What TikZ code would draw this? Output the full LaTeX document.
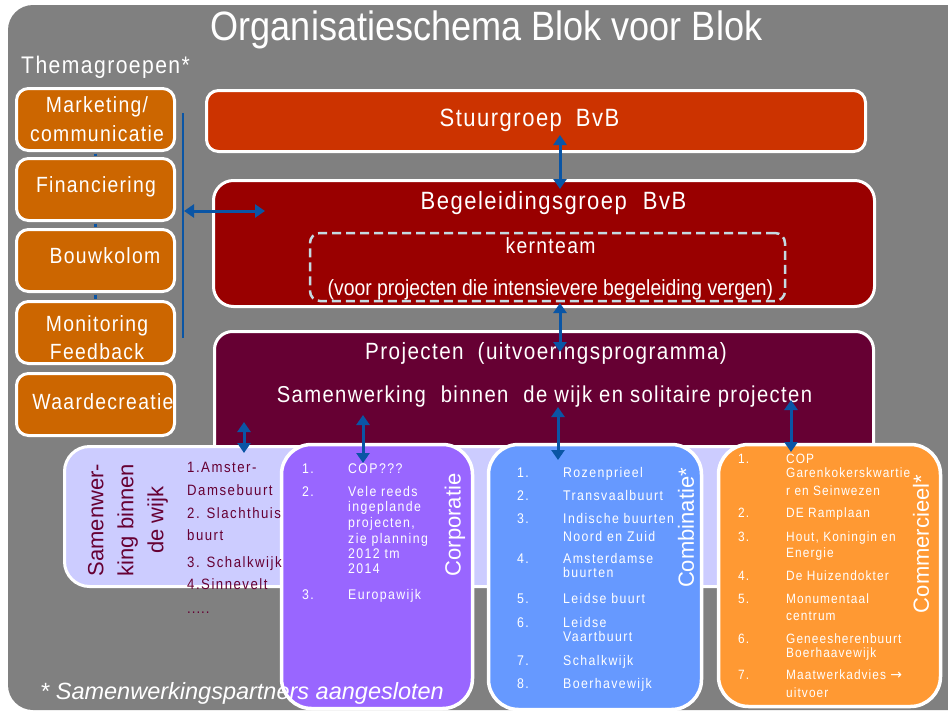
\documentclass[tikz,border=0pt]{standalone}
\usepackage{fontspec}
\setmainfont{Liberation Sans}
\newfontfamily\nar[FakeStretch=0.88]{Liberation Sans}
\newfontfamily\hd[FakeStretch=0.88,LetterSpace=6]{Liberation Sans}
\newfontfamily\lst[FakeStretch=0.88,LetterSpace=10]{Liberation Sans}
\newfontfamily\lsc[FakeStretch=0.88,LetterSpace=8]{Liberation Sans}
\newfontfamily\symf{DejaVu Sans}
\usetikzlibrary{arrows.meta}
\definecolor{bgray}{HTML}{808080}
\definecolor{cthema}{HTML}{CC6600}
\definecolor{cstuur}{HTML}{CC3300}
\definecolor{cbeg}{HTML}{990000}
\definecolor{cproj}{HTML}{660033}
\definecolor{clav}{HTML}{CCCCFF}
\definecolor{ccorp}{HTML}{9966FF}
\definecolor{ccomb}{HTML}{6699FF}
\definecolor{ccomm}{HTML}{FF9933}
\definecolor{carr}{HTML}{0A55A5}
\definecolor{cdash}{HTML}{C4DAE2}
\definecolor{cmaroon}{HTML}{660033}
\tikzset{
  box/.style={draw=white, line width=3pt, fill=#1, inner sep=0pt},
  dbl/.style={draw=carr, line width=3pt, {Triangle[length=10pt,width=13pt]}-{Triangle[length=10pt,width=13pt]}},
  wt/.style={text=white, inner sep=0pt},
  lefttxt/.style={wt, align=center, font=\hd\fontsize{22}{28.5}\selectfont},
  itm/.style={anchor=base west, inner sep=0pt},
}
\begin{document}
\begin{tikzpicture}[x=1pt,y=-1pt]
\useasboundingbox (0,0) rectangle (948,715);
\fill[bgray, rounded corners=25pt] (8,5) rectangle (975,710);

% title
\node[wt, font=\nar\fontsize{41}{46}\selectfont] (title) at (486.5,30) {Organisatieschema Blok voor Blok};
\node[wt, anchor=west, font=\hd\fontsize{24}{28}\selectfont] (thema) at (21,67) {Themagroepen*};

% themagroepen boxes
\foreach \n/\y in {mark/119.5, fin/189.5, bouw/260.5, moni/332.5, waar/404.5}
  \node[box=cthema, rounded corners=12pt, minimum width=158pt, minimum height=62pt] (\n) at (95.5,\y) {};
\node[lefttxt] (markT) at (97,119) {Marketing/\\communicatie};
\node[lefttxt] (finT) at (96,187) {Financiering};
\node[lefttxt] (bouwT) at (105,256) {Bouwkolom};
\node[lefttxt] (moniT) at (97,337.5) {Monitoring\\Feedback};
\node[lefttxt] (waarT) at (103,402) {Waardecreatie};
\draw[carr, line width=3pt, shorten <=1.5pt, shorten >=1.5pt] (mark.south) -- (fin.north);
\draw[carr, line width=3pt, shorten <=1.5pt, shorten >=1.5pt] (fin.south) -- (bouw.north);
\draw[carr, line width=3pt, shorten <=1.5pt, shorten >=1.5pt] (bouw.south) -- (moni.north);
\coordinate (barT) at (183,113);
\coordinate (barB) at (183,338);
\draw[carr, line width=2.5pt] (barT) -- (barB);

% main boxes
\node[box=cstuur, rounded corners=12pt, minimum width=659pt, minimum height=61pt] (stuur) at (536,121) {};
\node[box=cbeg, rounded corners=20pt, minimum width=661pt, minimum height=126pt] (beg) at (544,243.5) {};
\node[draw=cdash, dash pattern=on 9pt off 5pt, line width=2.5pt, rounded corners=10pt, minimum width=475pt, minimum height=68pt, inner sep=0pt] (kern) at (547.5,267) {};
\node[box=cproj, rounded corners=18pt, minimum width=659pt, minimum height=147pt] (proj) at (544,405) {};

\node[wt, font=\hd\fontsize{25}{30}\selectfont] (stuurT) at (529.5,120) {Stuurgroep\hspace{14pt}BvB};
\node[wt, font=\hd\fontsize{25}{30}\selectfont] (begT) at (553.5,203) {Begeleidingsgroep\hspace{16pt}BvB};
\node[wt, font=\hd\fontsize{22}{26}\selectfont] (kernT) at (550.5,246) {kernteam};
\node[wt, font=\nar\fontsize{22}{26}\selectfont] (kernS) at (550.5,290) {(voor projecten die intensievere begeleiding vergen)};
\node[wt, font=\hd\fontsize{23.5}{28}\selectfont] (projT) at (546,353) {Projecten\hspace{14pt}(uitvoeringsprogramma)};
\node[wt, font=\hd\fontsize{23}{28}\selectfont] (projS) at (544.5,397) {Samenwerking\hspace{15pt}binnen\hspace{15pt}de wijk en solitaire projecten};

% bottom band and boxes
\node[box=clav, rounded corners=25pt, minimum width=834pt, minimum height=140pt] (lav) at (481.5,516.5) {};
\node[box=ccorp, line width=3.5pt, rounded corners=30pt, minimum width=191pt, minimum height=264pt] (corp) at (377,576.5) {};
\node[box=ccomb, line width=3.5pt, rounded corners=30pt, minimum width=213pt, minimum height=265pt] (comb) at (595,577) {};
\node[box=ccomm, line width=3.5pt, rounded corners=30pt, minimum width=222pt, minimum height=262pt] (comm) at (829.5,575.5) {};

% samenwerking binnen de wijk
\node[rotate=90, text=cmaroon, inner sep=0pt, align=center, font=\fontsize{22}{30}\selectfont] (samT) at (128,520) {Samenwer-\\king binnen\\de wijk};
\foreach \y/\t [count=\i] in {467/1.Amster-, 490/Damsebuurt, 513/2. Slachthuis, 535/buurt, 562/3. Schalkwijk, 584/4.Sinnevelt}
  \node[itm, text=cmaroon, font=\lst\fontsize{15}{18}\selectfont] (sam\i) at (187,\y+5) {\t};
\node[itm, text=cmaroon, font=\lst\fontsize{15}{18}\selectfont] (samdots) at (187,613) {.\kern1pt.\kern1pt.\kern1pt.\kern1pt.};

% corporatie
\node[rotate=90, wt, font=\fontsize{22}{26}\selectfont] (corpT) at (455,525) {Corporatie};
\foreach \y/\t [count=\i] in {469/1., 492/2., 595/3.}
  \node[itm, text=white, font=\lst\fontsize{14}{16}\selectfont] (corpN\i) at (302,\y+4.5) {\t};
\foreach \y/\t [count=\i] in {469/COP???, 492/Vele reeds, 507/ingeplande, 523/{projecten,}, 539/zie planning, 554/2012 tm, 569/2014, 595/Europawijk}
  \node[itm, text=white, font=\lst\fontsize{14}{16}\selectfont] (corpL\i) at (348,\y+4.5) {\t};

% combinatie
\node[rotate=90, wt, font=\fontsize{22}{26}\selectfont] (combT) at (686,528) {Combinatie*};
\foreach \y/\t [count=\i] in {473.3/1., 496/2., 519.3/3., 559/4., 599.3/5., 622.7/6., 660.7/7., 684.3/8.}
  \node[itm, text=white, font=\lst\fontsize{14}{16}\selectfont] (combN\i) at (517,\y+4.5) {\t};
\foreach \y/\t [count=\i] in {473.3/Rozenprieel, 496/Transvaalbuurt, 519.3/Indische buurten, 536.7/Noord en Zuid, 559/Amsterdamse, 573.3/buurten, 599.3/Leidse buurt, 622.7/Leidse, 636.7/Vaartbuurt, 660.7/Schalkwijk, 684.3/Boerhavewijk}
  \node[itm, text=white, font=\lst\fontsize{14}{16}\selectfont] (combL\i) at (563,\y+4.5) {\t};

% commercieel
\node[rotate=90, wt, font=\fontsize{22}{26}\selectfont] (commT) at (921,544) {Commercieel*};
\foreach \y/\t [count=\i] in {459.3/1., 513.3/2., 536.7/3., 576/4., 599.3/5., 639.3/6., 675/7.}
  \node[itm, text=white, font=\lsc\fontsize{13.5}{16}\selectfont] (commN\i) at (738,\y+4.5) {\t};
\foreach \y/\t [count=\i] in {459.3/COP, 473.3/Garenkokerskwartie, 490.7/r en Seinwezen, 513.3/DE Ramplaan, 536.7/{Hout, Koningin en}, 553.3/Energie, 576/De Huizendokter, 599.3/Monumentaal, 615.7/centrum, 639.3/Geneesherenbuurt, 652.7/Boerhaavewijk, 675/{Maatwerkadvies {\symf\fontsize{14}{16}\selectfont →}}, 693.3/uitvoer}
  \node[itm, text=white, font=\lsc\fontsize{13.5}{16}\selectfont] (commL\i) at (786,\y+4.5) {\t};

% footer
\node[wt, anchor=west, font=\itshape\fontsize{23.5}{28}\selectfont] (foot) at (40,693) {* Samenwerkingspartners aangesloten};

% arrows
\coordinate (la) at (184,211);
\coordinate (lb) at (265,211);
\draw[dbl] (la) -- (lb);
\coordinate (sb1) at (560,135);
\coordinate (sb2) at (560,189);
\draw[dbl] (sb1) -- (sb2);
\coordinate (bp1) at (560,303);
\coordinate (bp2) at (560,352);
\draw[dbl] (bp1) -- (bp2);
\coordinate (a1t) at (244,422);
\coordinate (a1b) at (244,453);
\draw[dbl] (a1t) -- (a1b);
\coordinate (a2t) at (363,415);
\coordinate (a2b) at (363,463);
\draw[dbl] (a2t) -- (a2b);
\coordinate (a3t) at (558,407);
\coordinate (a3b) at (558,460);
\draw[dbl] (a3t) -- (a3b);
\coordinate (a4t) at (791,400);
\coordinate (a4b) at (791,452);
\draw[dbl] (a4t) -- (a4b);
\end{tikzpicture}
\end{document}
